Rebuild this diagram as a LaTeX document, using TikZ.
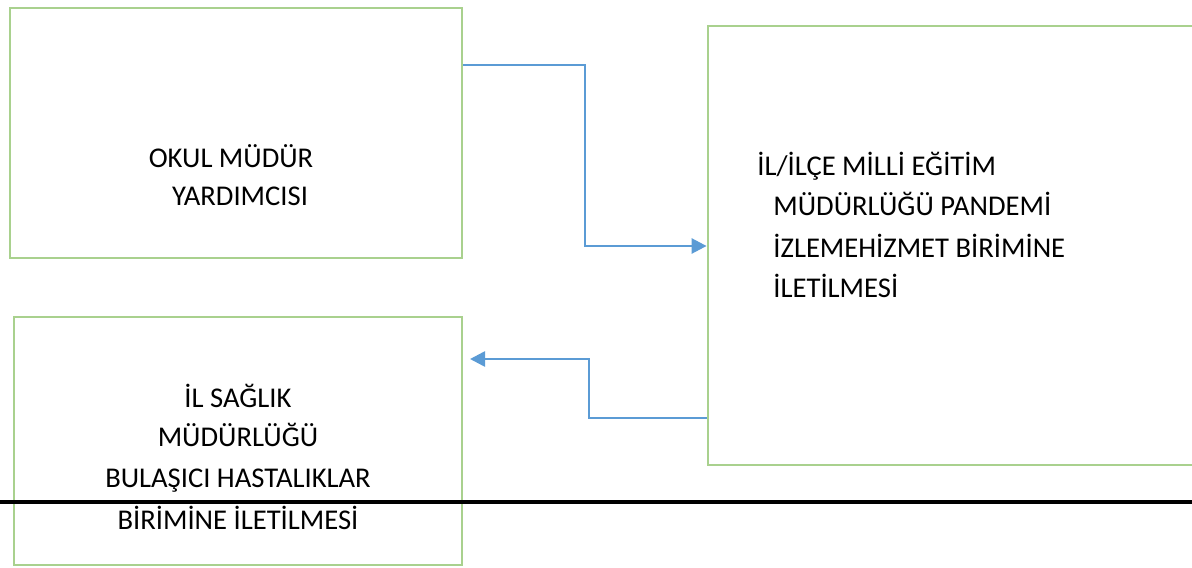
\documentclass[tikz,border=0pt]{standalone}
\usepackage{fontspec}
\setmainfont{Carlito}
\usetikzlibrary{arrows.meta,calc}
\definecolor{boxgreen}{HTML}{A9D18E}
\definecolor{arrblue}{HTML}{5B9BD5}
\tikzset{
  box/.style={draw=boxgreen, line width=1.4pt, fill=none, inner sep=0pt},
  arr/.style={draw=arrblue, line width=1.3pt, -{Triangle[length=7.5pt,width=7.5pt]}},
  txt/.style={inner sep=0pt, font=\fontsize{14.3pt}{17pt}\selectfont},
  rule/.style={draw=black, line width=1.8pt}
}
\begin{document}
\begin{tikzpicture}[x=0.5pt,y=-0.5pt]
\useasboundingbox (0,0) rectangle (1192,567);
\clip (0,0) rectangle (1192,567);
% boxes
\node[box, minimum width=226pt, minimum height=125pt] (b1) at (236,133) {};
\node[box, minimum width=224pt, minimum height=124pt] (b2) at (238,441) {};
\node[box, minimum width=251pt, minimum height=219.5pt] (b3) at (959,245.5) {};
% texts
\node[txt, anchor=base] (t1a) at (231,167) {OKUL MÜDÜR};
\node[txt, anchor=base] (t1b) at (240,205) {YARDIMCISI};
\node[txt, anchor=base west] (t3a) at (757,175) {İL/İLÇE MİLLİ EĞİTİM};
\node[txt, anchor=base west] (t3b) at (773,215) {MÜDÜRLÜĞÜ PANDEMİ};
\node[txt, anchor=base west] (t3c) at (773,257) {İZLEMEHİZMET BİRİMİNE};
\node[txt, anchor=base west] (t3d) at (773,297) {İLETİLMESİ};
\node[txt, anchor=base] (t2a) at (238,407) {İL SAĞLIK};
\node[txt, anchor=base] (t2b) at (238,446) {MÜDÜRLÜĞÜ};
\node[txt, anchor=base] (t2c) at (238,487) {BULAŞICI HASTALIKLAR};
\node[txt, anchor=base] (t2d) at (238,529) {BİRİMİNE İLETİLMESİ};
% helper coordinates
\coordinate (y65) at (0,65);
\coordinate (y246) at (0,246);
\coordinate (y418) at (0,418);
\coordinate (a2e) at (470,359);
% connectors
\draw[arr] (b1.east |- y65) -- (585,65) -- (585,246) -- (b3.west |- y246);
\draw[arr] (b3.west |- y418) -- (589,418) -- (589,359) -- (a2e);
% horizontal rule
\coordinate (hl1) at (0,502);
\coordinate (hl2) at (1192,502);
\draw[rule] (hl1) -- (hl2);
\end{tikzpicture}
\end{document}
